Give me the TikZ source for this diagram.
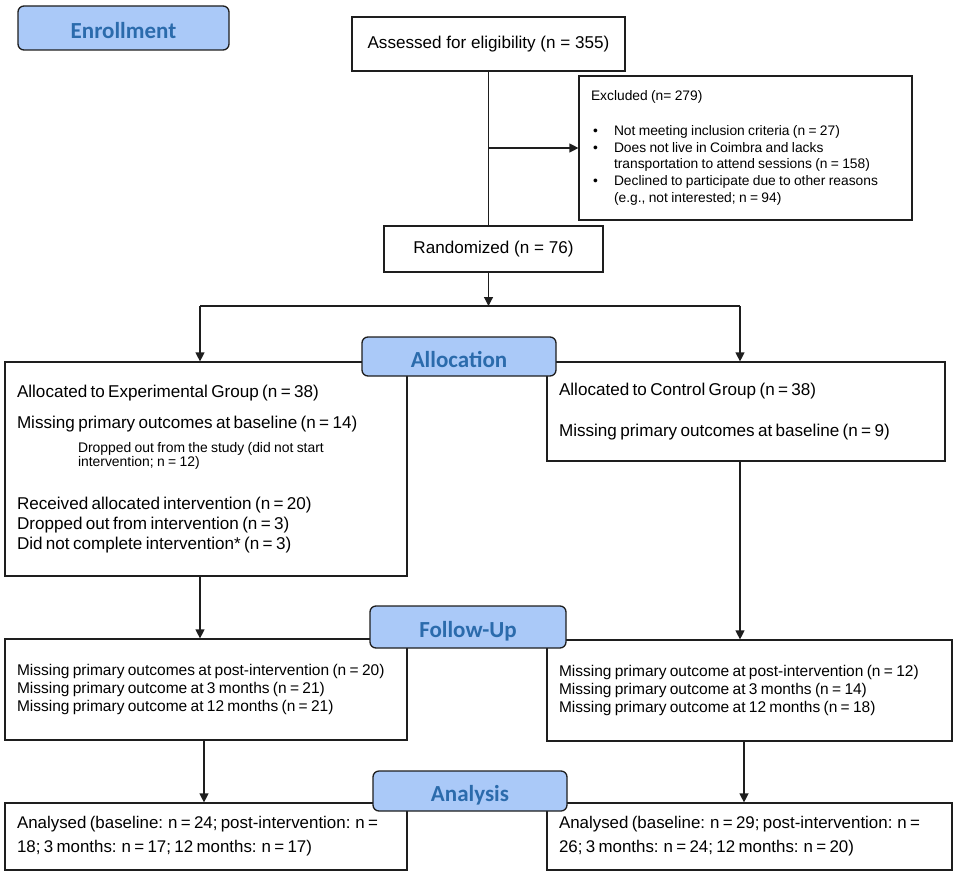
\documentclass[tikz,border=0pt]{standalone}
\usepackage{fontspec}
\setmainfont{Liberation Sans}
\newfontfamily\hdrfont{Carlito}
\usetikzlibrary{arrows.meta}
\setlength{\parindent}{0pt}
\setlength{\parskip}{0pt}
\definecolor{hdrfill}{RGB}{170,201,248}
\definecolor{hdrtext}{RGB}{43,107,172}
\definecolor{linec}{RGB}{30,30,30}
\newcommand\fmain{\fontsize{17.1}{20.3}\selectfont}
\newcommand\fsubtxt{\fontsize{13.9}{14.3}\selectfont}
\newcommand\fexc{\fontsize{13.8}{16.8}\selectfont}
\newcommand\ffol{\fontsize{15.5}{18.3}\selectfont}
\newcommand\fana{\fontsize{16.9}{24}\selectfont}
\newcommand\bulletitem[1]{\par\hangindent=23pt\hangafter=1\noindent\makebox[23pt][l]{\hspace{2pt}\textbullet}#1\par}
\tikzset{
  box/.style={draw=linec, line width=1.2pt, rectangle, inner xsep=12pt, inner ysep=0pt, align=left, anchor=center},
  cbox/.style={draw=linec, line width=1.2pt, rectangle, inner sep=0pt, align=center, anchor=center, font=\fmain},
  hdr/.style={draw=linec, line width=1.3pt, fill=hdrfill, rounded corners=6pt, text=hdrtext,
     font=\hdrfont\bfseries\fontsize{23}{26}\selectfont, inner sep=0pt, text height=21pt, text depth=0pt},
  conn/.style={draw=linec, line width=1.2pt},
  arr/.style={conn, -{Triangle[width=9pt,length=9pt]}},
}
\begin{document}
\begin{tikzpicture}[x=1pt,y=-1pt]
\useasboundingbox (0,0) rectangle (957,875);
% boxes
\node[cbox, minimum width=273pt, minimum height=54pt] (assessed) at (488.5,44) {Assessed for eligibility (n = 355)};
\node[box, text width=309pt, minimum height=144pt] (excluded) at (745.5,148) {\fexc Excluded (n= 279)\par\vspace{18pt}
\bulletitem{Not meeting inclusion criteria (n = 27)}
\bulletitem{Does not live in Coimbra and lacks\newline transportation to attend sessions (n = 158)}
\bulletitem{Declined to participate due to other reasons\newline (e.g., not interested; n = 94)}};
\node[cbox, minimum width=219pt, minimum height=46pt] (randomized) at (493.5,249) {Randomized (n = 76)};
\node[box, text width=378pt, minimum height=214pt] (allocL) at (206,469) {\fmain Allocated to Experimental Group (n = 38)\par\vspace{11.5pt}
Missing primary outcomes at baseline (n = 14)\par\vspace{9pt}
{\fsubtxt\leftskip=61pt Dropped out from the study (did not start\newline intervention; n = 12)\par}\vspace{22.5pt}
Received allocated intervention (n = 20)\\
Dropped out from intervention (n = 3)\\
Did not complete intervention* (n = 3)\par};
\node[box, text width=374pt, minimum height=99pt] (allocR) at (746,411.5) {\fmain Allocated to Control Group (n = 38)\par\vspace{21pt}
Missing primary outcomes at baseline (n = 9)\par};
\node[box, text width=378pt, minimum height=101pt] (followL) at (206,689.5) {\ffol Missing primary outcomes at post-intervention (n = 20)\\
Missing primary outcome at 3 months (n = 21)\\
Missing primary outcome at 12 months (n = 21)\par};
\node[box, text width=381pt, minimum height=101pt] (followR) at (749.5,690.5) {\ffol Missing primary outcome at post-intervention (n = 12)\\
Missing primary outcome at 3 months (n = 14)\\
Missing primary outcome at 12 months (n = 18)\par};
\node[box, text width=378pt, minimum height=67pt] (analysisL) at (206,836.5) {\fana Analysed (baseline: n = 24; post-intervention: n =\\
18; 3 months: n = 17; 12 months: n = 17)\par};
\node[box, text width=381pt, minimum height=67pt] (analysisR) at (749.5,836.5) {\fana Analysed (baseline: n = 29; post-intervention: n =\\
26; 3 months: n = 24; 12 months: n = 20)\par};
% connector coordinates
\coordinate (splitL) at (200,306);
\coordinate (splitR) at (740,306);
\coordinate (colL) at (204,0);
\coordinate (colR) at (744,0);
% connectors
\draw[conn] (assessed.south) -- (assessed.south |- randomized.north);
\draw[arr] (assessed.south |- excluded.west) -- (excluded.west);
\draw[arr] (assessed.south |- randomized.south) -- (assessed.south |- splitL);
\draw[conn] (splitL) -- (splitR);
\draw[arr] (splitL) -- (splitL |- allocL.north);
\draw[arr] (splitR) -- (splitR |- allocR.north);
\draw[arr] (splitL |- allocL.south) -- (splitL |- followL.north);
\draw[arr] (splitR |- allocR.south) -- (splitR |- followR.north);
\draw[arr] (colL |- followL.south) -- (colL |- analysisL.north);
\draw[arr] (colR |- followR.south) -- (colR |- analysisR.north);
% headers
\node[hdr, minimum width=211pt, minimum height=44pt] (enroll) at (123.5,28) {Enrollment};
\node[hdr, minimum width=194pt, minimum height=39pt] (alloc) at (459,356.5) {Allocation};
\node[hdr, minimum width=196pt, minimum height=42pt] (follow) at (468,627) {Follow-Up};
\node[hdr, minimum width=194pt, minimum height=40pt] (analysis) at (470,791) {Analysis};
\end{tikzpicture}
\end{document}
